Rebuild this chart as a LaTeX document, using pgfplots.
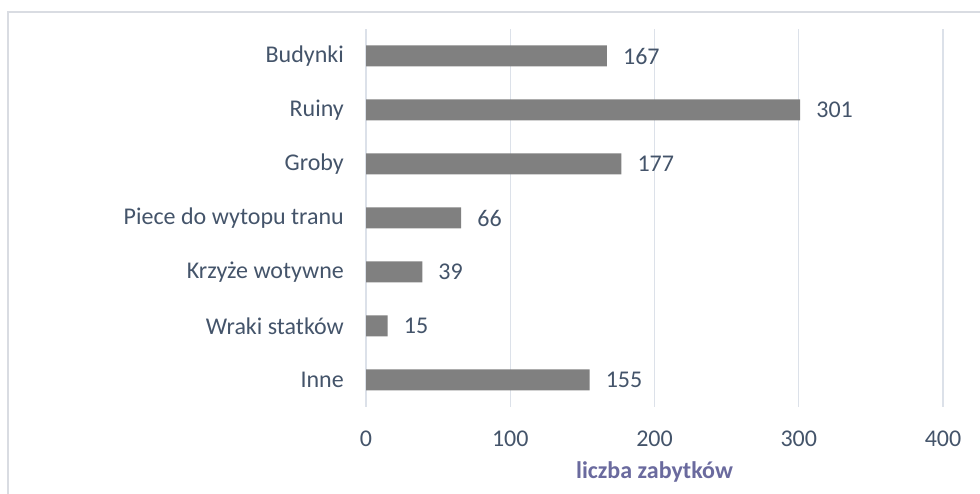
\documentclass[border=0pt]{standalone}
\usepackage{fontspec}
\setmainfont{Carlito}
\usepackage{pgfplots}
\pgfplotsset{compat=1.18}
\definecolor{txt}{RGB}{68,84,106}
\definecolor{lab}{RGB}{106,106,158}
\definecolor{grd}{RGB}{220,225,233}
\definecolor{bar}{RGB}{128,128,128}
\definecolor{frm}{RGB}{217,220,226}
\begin{document}
\fontsize{24}{28}\selectfont
\begin{tikzpicture}[x=1pt,y=1pt]
\useasboundingbox (0,0) rectangle (980,494);
\draw[frm,line width=1.2pt] (8,0) -- (8,482) -- (980,482);
\begin{axis}[
  at={(366pt,87pt)}, anchor=south west,
  scale only axis, width=577pt, height=378pt,
  xmin=0, xmax=400, ymin=-0.5, ymax=6.5,
  axis line style={draw=none},
  xbar, bar width=21pt,
  xtick={0,100,200,300,400},
  ytick={0,1,2,3,4,5,6},
  yticklabels={Inne, Wraki statków, Krzyże wotywne, Piece do wytopu tranu, Groby, Ruiny, Budynki},
  xmajorgrids, grid style={grd, line width=1.2pt},
  major tick length=0pt,
  tick label style={font=\fontsize{24}{28}\selectfont, text=txt},
  /pgf/number format/assume math mode=true,
  xticklabel style={anchor=north, yshift=-16pt},
  yticklabel style={anchor=east, xshift=-14pt},
  xlabel={\textbf{liczba zabytków}},
  xlabel style={font=\fontsize{24}{28}\selectfont, text=lab, at={(axis description cs:0.5,0)}, anchor=center, yshift=-65pt},
  nodes near coords,
  nodes near coords style={font=\fontsize{24}{28}\selectfont, text=txt, anchor=west, xshift=8pt},
  clip=false,
]
\addplot[fill=bar, draw=none] coordinates {(155,0) (15,1) (39,2) (66,3) (177,4) (301,5) (167,6)};
\end{axis}
\end{tikzpicture}
\end{document}
